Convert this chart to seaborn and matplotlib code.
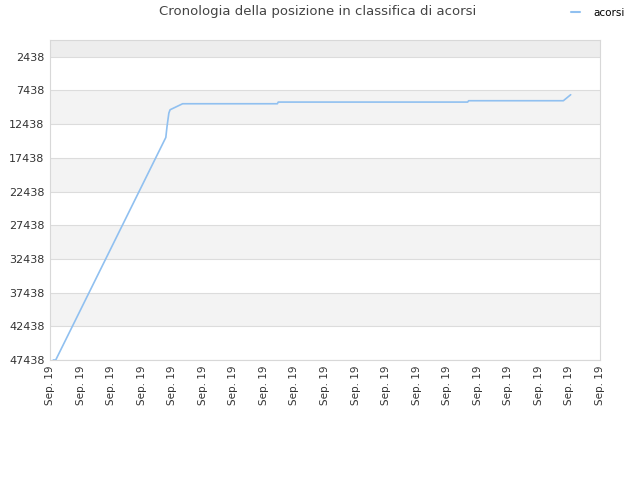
import matplotlib
matplotlib.use("Agg")
import matplotlib.pyplot as plt
import seaborn as sns
import pandas as pd

title = "Cronologia della posizione in classifica di acorsi"
series_name = "acorsi"
x_pos = [0.108, 0.187, 3.79, 3.83, 3.89, 3.93, 4.34, 7.44, 7.47, 13.67, 13.70, 16.80, 17.04]
rank = [47438, 47438, 14422, 12788, 10800, 10309, 9418, 9418, 9170, 9170, 8970, 8970, 8080]
y_ticks = [2438, 7438, 12438, 17438, 22438, 27438, 32438, 37438, 42438, 47438]
x_labels = ["Sep. 19"] * 19

df = pd.DataFrame({"x": x_pos, "rank": rank, "serie": series_name})

sns.set_style("white")
fig = plt.figure(figsize=(6.4, 4.8), dpi=100)
ax = fig.add_axes([50/640, 1-360/480, 550/640, 320/480])

ylo, yhi = 47438, -40
bands = [(-40, 2438)] + [(y_ticks[i], y_ticks[i+1]) for i in range(len(y_ticks)-1)]
for i, (a, b) in enumerate(bands):
    if i == 0:
        ax.axhspan(a, b, color="#ededed", zorder=0, lw=0)
    elif i % 2 == 1:
        ax.axhspan(a, b, color="#ffffff", zorder=0, lw=0)
    else:
        ax.axhspan(a, b, color="#f3f3f3", zorder=0, lw=0)
for t in y_ticks:
    ax.axhline(t, color="#dcdcdc", lw=0.8, zorder=1)

sns.lineplot(data=df, x="x", y="rank", hue="serie", palette=["#90c0f0"],
             ax=ax, lw=1.2, estimator=None, sort=False, zorder=3)

ax.set_ylim(ylo, yhi)
ax.set_xlim(0, 18)
ax.set_yticks(y_ticks)
ax.set_yticklabels([str(t) for t in y_ticks], fontsize=8, color="#333333")
ax.set_xticks(range(19))
ax.set_xticklabels(x_labels, rotation=90, fontsize=7.5, color="#333333")
ax.tick_params(length=0, pad=4)
ax.set_xlabel("")
ax.set_ylabel("")
for s in ax.spines.values():
    s.set_color("#d8d8d8")
    s.set_linewidth(0.8)

fig.text(318/640, 1-12/480, title, ha="center", va="center", fontsize=9.5, color="#444444")
leg = ax.legend(loc="center left", bbox_to_anchor=(571/640, 1-13/480), bbox_transform=fig.transFigure,
                frameon=False, fontsize=7.5, handlelength=0.9, handletextpad=1.2,
                borderpad=0, borderaxespad=0)
for h in leg.get_lines():
    h.set_linewidth(1.5)
for t in leg.get_texts():
    t.set_color("#000000")

fig.savefig("out.png", dpi=100)
